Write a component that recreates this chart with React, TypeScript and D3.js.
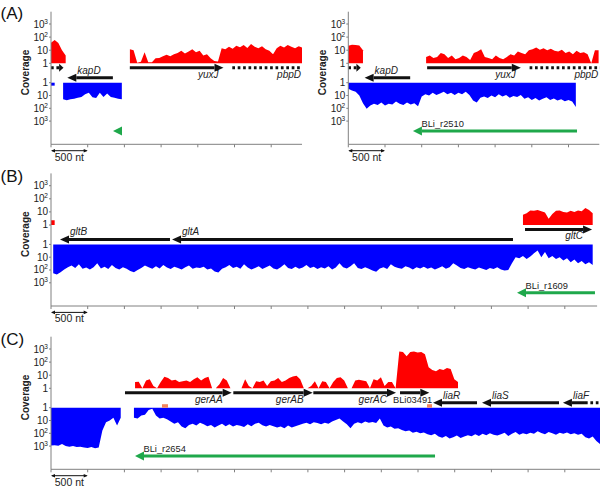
import React from 'react';
import * as d3 from 'd3';

// ---------- scale / tick data ----------
const NT_PER_TICK = 500;
const STEP = 50; // coverage sampled every 50 nt
const COVERAGE_TICKS = [1, 10, 100, 1000];
const COVERAGE_TICK_BASE = ['1', '10', '10', '10'];
const COVERAGE_TICK_EXP = ['', '', '2', '3'];
const SCALE_BAR_NT = 500;
const SCALE_BAR_LABEL = '500 nt';
const Y_TITLE = 'Coverage';

type Seg = [number, number[]];
type Gene = { name: string; from: number; to: number; strand: 1 | -1; dotted?: boolean; dashFrom?: number; italic?: boolean };

// ---------- Panel A (left) ----------
const A1_PLUS: Seg[] = [
  [0, [37, 60, 35, 10, 4]],
  [1075, [12, 10, 1.1, 1.3, 7, 1.2, 1.2, 2.4, 2.5, 3.5, 4.5, 3.5, 5, 6, 9, 5.5, 8, 12, 7, 9, 4, 5, 2.4, 1.5, 1.4, 14, 12, 18, 13, 22, 17, 25, 15, 30, 18, 14, 20, 12, 9, 5, 14, 22, 16, 25, 18, 14, 20, 16]],
];
const A1_MINUS: Seg[] = [
  [0, [1.7, 1.7]],
  [165, [20, 24, 20, 18, 15, 13, 8, 6, 14, 16, 6, 13, 7, 13, 15, 18, 20]],
];
const A_GENES: Gene[] = [
  { name: '', from: 0, to: 170, strand: 1, dotted: true },
  { name: 'kapD', from: 222, to: 843, strand: -1 },
  { name: 'yuxJ', from: 1074, to: 2350, strand: 1 },
  { name: 'pbpD', from: 2470, to: 3700, strand: 1, dotted: true },
];
const A1_RNA: Gene[] = [{ name: '', from: 845, to: 964, strand: -1 }];

// ---------- Panel A (right) ----------
const A2_PLUS: Seg[] = [
  [0, [22, 26, 25, 23, 10]],
  [1060, [3, 4, 2.5, 3, 6, 5, 2.5, 4, 2, 2.5, 4, 3, 1.8, 6, 8, 12, 3, 2.5, 2, 4, 2.5, 2, 3, 5, 4, 8, 6, 5, 10, 12, 16, 11, 14, 10, 13, 9, 8, 11, 6, 8, 5, 9, 6, 7, 5, 1, 10, 10]],
];
const A2_MINUS: Seg[] = [
  [0, [3, 4, 5, 10, 40, 110, 60, 45, 55, 35, 60, 45, 50, 30, 45, 55, 35, 50, 40, 70, 12, 8, 10, 6, 9, 7, 5, 8, 6, 9, 6, 8, 5, 9, 25, 35, 15, 12, 16, 10, 14, 8, 12, 9, 15, 11, 13, 9, 18, 14, 22, 16, 25, 18, 14, 22, 17, 25, 20, 28, 22, 30, 80]],
];
const A2_RNA: Gene[] = [{ name: 'BLi_r2510', from: 881, to: 3116, strand: -1, italic: false }];

// ---------- Panel B ----------
const B_PLUS: Seg[] = [
  [0, [2.3, 2.3]],
  [6430, [6, 8, 13, 12, 14, 11, 9, 3, 7, 12, 13, 10, 9, 12, 10, 13, 11, 20, 14, 8]],
];
const B_MINUS: Seg[] = [
  [30, [
    180, 220, 150, 90, 60, 45, 70, 35, 80, 65,
    90, 60, 30, 75, 55, 85, 40, 70, 90, 60,
    80, 120, 150, 100, 70, 45, 60, 80, 50, 75,
    40, 65, 85, 55, 70, 90, 60, 45, 80, 65,
    70, 55, 90, 75, 130, 160, 80, 60, 40, 70,
    55, 80, 35, 65, 90, 70, 50, 85, 60, 45,
    75, 90, 60, 35, 70, 85, 55, 80, 65, 40,
    70, 55, 85, 60, 75, 50, 90, 65, 30, 60,
    75, 50, 30, 70, 85, 60, 80, 110, 140, 75,
    60, 85, 35, 55, 70, 80, 50, 65, 90, 60,
    75, 55, 80, 65, 90, 70, 50, 80, 60, 30,
    45, 70, 85, 60, 75, 90, 65, 80, 100, 70,
    85, 60, 90, 110, 100, 30, 10, 12, 8, 14,
    9, 5, 3, 10, 4, 12, 8, 14, 10, 18,
    12, 25, 15, 30, 20, 35, 25, 40,
  ]],
];
const B_GENES: Gene[] = [
  { name: 'gltB', from: 123, to: 1621, strand: -1 },
  { name: 'gltA', from: 1649, to: 6294, strand: -1 },
  { name: 'gltC', from: 6458, to: 7371, strand: 1 },
];
const B_RNA: Gene[] = [{ name: 'BLi_r1609', from: 6349, to: 7411, strand: -1, italic: false }];

// ---------- Panel C ----------
const C_PLUS: Seg[] = [
  [1145, [
    3, 3.2, 1, 4, 5, 1.5, 1, 3, 7.5, 6,
    4, 4.5, 3, 3.5, 4, 3, 5, 7, 4, 6,
    7.5, 1, 1, 2, 6, 4, 1, 1, 1, 1,
    5, 1.5, 1, 3.5, 3, 4, 1.5, 3.5, 4, 6,
    3, 4, 6, 8, 9, 5, 1, 1, 1.5, 3.5,
    1, 3.5, 3, 1, 3, 6, 7, 4, 1, 1,
    4, 4.5, 4, 3.5, 1, 5, 4, 7, 1.5, 3,
    3, 1, 650, 600, 280, 600, 650, 550, 600, 400,
    40, 25, 20, 30, 25, 35, 30, 5, 3,
  ]],
];
const C_MINUS: Seg[] = [
  [0, [900, 850, 950, 700, 1000, 1100, 1000, 1200, 1100, 1300, 1400, 1200, 1500, 1300, 60, 14, 10, 6, 25, 6]],
  [1130, [
    6, 7, 4, 3.5, 1.5, 1.2, 4, 7, 6, 8,
    12, 18, 14, 30, 40, 22, 18, 25, 15, 20,
    28, 22, 35, 25, 18, 28, 20, 30, 22, 26,
    32, 20, 28, 18, 15, 24, 30, 22, 28, 36,
    30, 40, 25, 35, 28, 22, 18, 15, 20, 14,
    16, 20, 15, 18, 12, 9, 7, 12, 20, 40,
    18, 14, 17, 12, 15, 13, 16, 7, 25, 35,
    30, 45, 40, 55, 70, 60, 90, 75, 100, 85,
    120, 140, 110, 180, 220, 160, 250, 200, 150, 230,
    180, 140, 170, 120, 160, 110, 140, 100, 130, 150,
    120, 90, 160, 110, 80, 130, 100, 120, 90, 110,
    70, 95, 120, 80, 100, 130, 90, 110, 85, 120,
    100, 130, 110, 200, 250, 180, 400, 700,
  ]],
];
const C_GENES: Gene[] = [
  { name: 'gerAA', from: 1008, to: 2462, strand: 1 },
  { name: 'gerAB', from: 2484, to: 3565, strand: 1 },
  { name: 'gerAC', from: 3574, to: 4700, strand: 1 },
  { name: 'BLi03491', from: 4755, to: 5154, strand: 1, italic: false },
  { name: 'liaR', from: 5204, to: 5804, strand: -1 },
  { name: 'liaS', from: 5872, to: 6921, strand: -1 },
  { name: 'liaF', from: 6975, to: 7800, strand: -1, dashFrom: 7275 },
];
const C_RNA: Gene[] = [{ name: 'BLi_r2654', from: 1144, to: 5232, strand: -1, italic: false }];
const C_MARKS: [number, number][] = [[1512, 1594], [5123, 5191]];

// ---------- layout ----------
const FONT = "'Liberation Sans', Arial, Helvetica, sans-serif";
const PX_PER_NT = 36.7 / 500;
const RED = '#ff0000';
const BLUE = '#0000ff';
const GREEN = '#1fa84b';
const AXIS = '#808080';
const LABEL_NUDGE: Record<string, number> = { BLi03491: 12, yuxJ: 4 };

type PanelCfg = {
  id: string; x0: number; top: number; lengthNt: number; letter?: string; letterDy: number;
  plus: Seg[]; minus: Seg[]; genes: Gene[]; rna: Gene[]; marks?: [number, number][];
};

const PANELS: PanelCfg[] = [
  { id: 'A1', x0: 51, top: 0, lengthNt: 3420, letter: '(A)', letterDy: 19, plus: A1_PLUS, minus: A1_MINUS, genes: A_GENES, rna: A1_RNA },
  { id: 'A2', x0: 348.3, top: 0, lengthNt: 3420, letterDy: 19, plus: A2_PLUS, minus: A2_MINUS, genes: A_GENES, rna: A2_RNA },
  { id: 'B', x0: 51, top: 161.7, lengthNt: 7440, letter: '(B)', letterDy: 20.5, plus: B_PLUS, minus: B_MINUS, genes: B_GENES, rna: B_RNA },
  { id: 'C', x0: 51, top: 325, lengthNt: 7490, letter: '(C)', letterDy: 19.5, plus: C_PLUS, minus: C_MINUS, genes: C_GENES, rna: C_RNA, marks: C_MARKS },
];

const Y_AXIS_TOP = 11.7;
const X_AXIS_Y = 144.3;
const FWD_Y = 67.7;
const REV_Y = 77.7;
const RNA_Y = 131;
const BAR_Y = 150.7;

function Arrow({ g, xs, y, color, head, half, dash }: { g: Gene; xs: (n: number) => number; y: number; color: string; head: number; half: number; dash: string }) {
  const xa = xs(g.from);
  const xb = xs(g.to);
  const h = Math.min(head, (xb - xa) * 0.35 > 4 ? Math.max((xb - xa) * 0.35, 4) : head);
  const parts: React.ReactNode[] = [];
  if (g.strand === 1) {
    const base = xb - h;
    if (base > xa) parts.push(<line key="l" x1={xa} x2={base} y1={y} y2={y} stroke={color} strokeWidth={3} strokeDasharray={g.dotted ? dash : undefined} />);
    parts.push(<polygon key="h" points={`${xb},${y} ${base},${y - half} ${base},${y + half}`} fill={color} />);
  } else {
    const base = xa + h;
    if (xb > base) {
      if (g.dashFrom !== undefined) {
        const xd = xs(g.dashFrom);
        parts.push(<line key="l1" x1={base} x2={xd} y1={y} y2={y} stroke={color} strokeWidth={3} />);
        parts.push(<line key="l2" x1={xd} x2={xb} y1={y} y2={y} stroke={color} strokeWidth={3} strokeDasharray={dash} />);
      } else {
        parts.push(<line key="l" x1={base} x2={xb} y1={y} y2={y} stroke={color} strokeWidth={3} strokeDasharray={g.dotted ? dash : undefined} />);
      }
    }
    parts.push(<polygon key="h" points={`${xa},${y} ${base},${y - half} ${base},${y + half}`} fill={color} />);
  }
  return <g>{parts}</g>;
}

function Panel({ cfg }: { cfg: PanelCfg }) {
  const x1 = cfg.x0 + cfg.lengthNt * PX_PER_NT;
  const xs = d3.scaleLinear().domain([0, cfg.lengthNt]).range([cfg.x0, x1]);
  const yUp = d3.scaleLog().domain([1, 1000]).range([63.3, 24]);
  const yDown = d3.scaleLog().domain([1, 1000]).range([82.7, 121.1]);
  const toPts = (seg: Seg) => seg[1].map((v, i) => ({ nt: seg[0] + i * STEP, v: Math.max(1, v) }));
  const upArea = d3.area<{ nt: number; v: number }>().x(d => xs(d.nt)).y0(yUp(1)).y1(d => yUp(d.v));
  const downArea = d3.area<{ nt: number; v: number }>().x(d => xs(d.nt)).y0(yDown(1)).y1(d => yDown(d.v));
  const ticks = d3.range(0, cfg.lengthNt + 1, NT_PER_TICK);
  const clipId = `clip-${cfg.id}`;
  const barX0 = xs(0);
  const barX1 = xs(SCALE_BAR_NT);

  return (
    <g transform={`translate(0,${cfg.top})`}>
      <defs>
        <clipPath id={clipId}>
          <rect x={cfg.x0 - 1} y={0} width={x1 - cfg.x0 + 1} height={150} />
        </clipPath>
      </defs>
      <g clipPath={`url(#${clipId})`}>
        {cfg.plus.map((s, i) => <path key={`p${i}`} d={upArea(toPts(s)) || ''} fill={RED} />)}
        {cfg.minus.map((s, i) => <path key={`m${i}`} d={downArea(toPts(s)) || ''} fill={BLUE} />)}
        {(cfg.marks || []).map((m, i) => (
          <rect key={`k${i}`} x={xs(m[0])} y={yDown(1) - 3.5} width={xs(m[1]) - xs(m[0])} height={3.5} fill="#f2845c" />
        ))}
        {cfg.genes.map((g, i) => (
          <Arrow key={`g${i}`} g={g} xs={xs} y={g.strand === 1 ? FWD_Y : REV_Y} color="#111" head={9} half={4} dash="2.7 2.7" />
        ))}
        {cfg.genes.filter(g => g.name).map((g, i) => {
          const nudge = LABEL_NUDGE[g.name] || 0;
          const italic = g.italic !== false;
          if (g.strand === 1) {
            const xe = Math.min(xs(g.to), x1 + 8);
            return (
              <text key={`t${i}`} x={xe - 9 + nudge} y={77.8} textAnchor="end" fontSize={italic ? 10 : 9.3} fontFamily={FONT}
                fontStyle={italic ? 'italic' : 'normal'} fill="#222">{g.name}</text>
            );
          }
          return (
            <text key={`t${i}`} x={xs(g.from) + 10 + nudge} y={73.8} fontSize={10} fontFamily={FONT}
              fontStyle={italic ? 'italic' : 'normal'} fill="#222">{g.name}</text>
          );
        })}
        {cfg.rna.map((g, i) => (
          <Arrow key={`r${i}`} g={g} xs={xs} y={RNA_Y} color={GREEN} head={9} half={4.5} dash="" />
        ))}
        {cfg.rna.filter(g => g.name).map((g, i) => (
          <text key={`rt${i}`} x={xs(g.from) + 8.5} y={127} fontSize={9.3} fontFamily={FONT} fill="#222">{g.name}</text>
        ))}
      </g>

      {/* axes */}
      <line x1={cfg.x0} x2={cfg.x0} y1={Y_AXIS_TOP} y2={X_AXIS_Y} stroke={AXIS} strokeWidth={1} />
      <line x1={cfg.x0} x2={x1} y1={X_AXIS_Y} y2={X_AXIS_Y} stroke={AXIS} strokeWidth={1} />
      {ticks.map(t => (
        <line key={`xt${t}`} x1={xs(t)} x2={xs(t)} y1={X_AXIS_Y} y2={X_AXIS_Y + 3} stroke={AXIS} strokeWidth={1} />
      ))}
      {COVERAGE_TICKS.map((v, i) => (
        <g key={`yt${v}`}>
          {[yUp(v), yDown(v)].map((yy, j) => (
            <g key={j}>
              <line x1={cfg.x0 - 2} x2={cfg.x0} y1={yy} y2={yy} stroke={AXIS} strokeWidth={1} />
              <text x={cfg.x0 - (COVERAGE_TICK_EXP[i] ? 6.5 : 3)} y={yy + 3.5} textAnchor="end" fontSize={10} fontFamily={FONT} fill="#222">
                {COVERAGE_TICK_BASE[i]}
              </text>
              {COVERAGE_TICK_EXP[i] && (
                <text x={cfg.x0 - 6.8} y={yy - 0.5} fontSize={6.5} fontFamily={FONT} fill="#222">{COVERAGE_TICK_EXP[i]}</text>
              )}
            </g>
          ))}
        </g>
      ))}
      <text transform={`translate(${cfg.x0 - 22.5},72.5) rotate(-90)`} textAnchor="middle" fontSize={10} fontWeight="bold" fontFamily={FONT} fill="#222">{Y_TITLE}</text>

      {/* scale bar */}
      <line x1={barX0 + 1} x2={barX1 - 1} y1={BAR_Y} y2={BAR_Y} stroke="#111" strokeWidth={1} />
      <polygon points={`${barX0},${BAR_Y} ${barX0 + 4},${BAR_Y - 1.8} ${barX0 + 4},${BAR_Y + 1.8}`} fill="#111" />
      <polygon points={`${barX1},${BAR_Y} ${barX1 - 4},${BAR_Y - 1.8} ${barX1 - 4},${BAR_Y + 1.8}`} fill="#111" />
      <text x={(barX0 + barX1) / 2} y={160.5} textAnchor="middle" fontSize={10.5} fontFamily={FONT} fill="#222">{SCALE_BAR_LABEL}</text>

      {cfg.letter && (
        <text x={0.5} y={cfg.letterDy} fontSize={17} fontFamily={FONT} fill="#111">{cfg.letter}</text>
      )}
    </g>
  );
}

export default function App() {
  return (
    <svg width={600} height={489} viewBox="0 0 600 489" style={{ position: 'absolute', left: 0, top: 0, background: '#fff' }}>
      <rect x={0} y={0} width={600} height={489} fill="#fff" />
      {PANELS.map(p => <Panel key={p.id} cfg={p} />)}
    </svg>
  );
}
